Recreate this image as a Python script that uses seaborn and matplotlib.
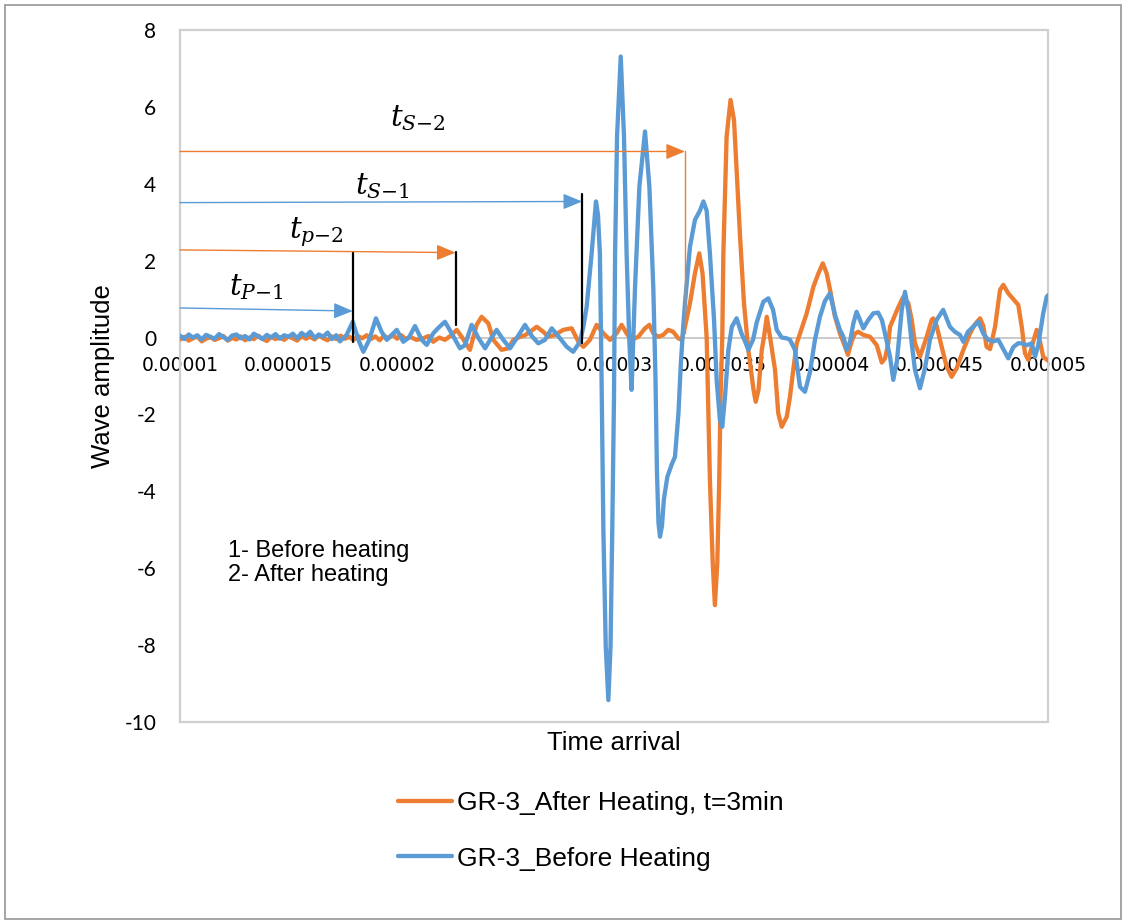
import matplotlib
matplotlib.use("Agg")
import matplotlib.pyplot as plt
from matplotlib.lines import Line2D
from matplotlib.patches import Rectangle
import numpy as np
import pandas as pd
import seaborn as sns

# ---- waveform before heating (time in microseconds, amplitude) ----
before_time_us = [
    10.0, 10.2, 10.4, 10.6, 10.8, 11.0, 11.2, 11.4, 11.6, 11.8,
    12.0, 12.2, 12.4, 12.6, 12.8, 13.0, 13.2, 13.4, 13.6, 13.8,
    14.0, 14.2, 14.4, 14.6, 14.8, 15.0, 15.2, 15.4, 15.6, 15.8,
    16.0, 16.2, 16.4, 16.6, 16.8, 17.0, 17.2, 17.37, 17.68, 17.96,
    18.22, 18.45, 18.72, 19.03, 19.29, 19.53, 19.76, 19.99, 20.29, 20.55,
    20.83, 21.14, 21.37, 21.67, 21.90, 22.21, 22.52, 22.90, 23.13, 23.44,
    23.74, 24.06, 24.29, 24.59, 24.90, 25.21, 25.59, 25.90, 26.21, 26.51,
    26.82, 27.13, 27.43, 27.82, 28.12, 28.43, 28.59, 28.74, 28.97, 29.17,
    29.26, 29.35, 29.43, 29.51, 29.62, 29.74, 29.84, 29.92, 30.00, 30.05,
    30.14, 30.31, 30.46, 30.58, 30.70, 30.81, 30.97, 31.17, 31.43, 31.63,
    31.81, 31.91, 31.98, 32.05, 32.12, 32.21, 32.30, 32.46, 32.66, 32.81,
    32.97, 33.08, 33.18, 33.27, 33.50, 33.73, 33.96, 34.12, 34.27, 34.42,
    34.61, 34.73, 34.88, 34.99, 35.12, 35.27, 35.43, 35.65, 35.88, 36.04,
    36.19, 36.41, 36.58, 36.88, 37.11, 37.33, 37.50, 37.73, 37.96, 38.11,
    38.34, 38.57, 38.80, 39.03, 39.26, 39.49, 39.72, 39.95, 40.18, 40.41,
    40.57, 40.72, 40.88, 41.03, 41.18, 41.34, 41.49, 41.71, 41.95, 42.17,
    42.35, 42.53, 42.72, 42.87, 43.04, 43.26, 43.41, 43.56, 43.72, 43.87,
    44.10, 44.33, 44.56, 44.87, 45.17, 45.48, 45.71, 45.94, 46.10, 46.31,
    46.64, 46.79, 47.02, 47.25, 47.48, 47.71, 47.94, 48.17, 48.40, 48.62,
    48.79, 49.02, 49.25, 49.40, 49.55, 49.78, 49.94, 50.00,
]
before_amp = [
    0.05, -0.04, 0.08, 0.00, 0.06, -0.05, 0.07, 0.02, -0.03, 0.09,
    0.01, -0.06, 0.05, 0.08, -0.02, 0.04, -0.05, 0.10, 0.03, -0.04,
    0.07, 0.00, 0.09, -0.03, 0.06, 0.02, 0.10, -0.02, 0.12, 0.04,
    0.15, -0.01, 0.08, 0.02, 0.13, -0.04, 0.06, -0.10, 0.07, 0.41,
    -0.06, -0.37, -0.06, 0.50, 0.15, -0.06, 0.07, 0.20, -0.11, 0.00,
    0.30, -0.06, -0.19, 0.11, 0.25, 0.41, 0.11, -0.28, -0.20, 0.33,
    0.00, -0.28, -0.06, 0.20, -0.06, -0.28, 0.05, 0.33, 0.04, -0.15,
    -0.06, 0.24, 0.04, -0.24, -0.37, -0.11, 0.28, 0.80, 2.19, 3.54,
    3.20, 2.19, -1.20, -5.00, -8.04, -9.43, -8.04, -5.00, -1.54, 2.19,
    5.23, 7.31, 5.23, 2.19, 0.00, -1.36, 1.32, 3.93, 5.36, 3.93,
    1.32, -1.00, -3.50, -4.83, -5.18, -4.90, -4.20, -3.62, -3.30, -3.10,
    -1.97, -0.67, 0.20, 0.89, 2.36, 3.06, 3.30, 3.54, 3.30, 2.19,
    0.46, -1.10, -2.14, -2.32, -1.50, -0.32, 0.28, 0.50, 0.10, -0.10,
    -0.32, -0.05, 0.40, 0.93, 1.02, 0.72, 0.20, 0.00, -0.02, -0.06,
    -0.32, -1.28, -1.41, -0.90, -0.06, 0.54, 0.95, 1.15, 0.60, 0.20,
    0.02, -0.32, -0.10, 0.37, 0.67, 0.45, 0.24, 0.45, 0.63, 0.65,
    0.45, 0.00, -0.50, -1.10, -0.60, 0.72, 1.19, 0.70, -0.15, -0.84,
    -1.32, -0.80, -0.06, 0.46, 0.72, 0.28, 0.15, 0.07, -0.11, 0.15,
    0.33, 0.41, 0.10, -0.06, -0.10, -0.06, -0.30, -0.54, -0.25, -0.15,
    -0.15, -0.20, -0.15, -0.50, -0.20, 0.63, 1.06, 1.10,
]

# ---- waveform after heating, t = 3 min ----
after_time_us = [
    10.0, 10.2, 10.4, 10.6, 10.8, 11.0, 11.2, 11.4, 11.6, 11.8,
    12.0, 12.2, 12.4, 12.6, 12.8, 13.0, 13.2, 13.4, 13.6, 13.8,
    14.0, 14.2, 14.4, 14.6, 14.8, 15.0, 15.2, 15.4, 15.6, 15.8,
    16.0, 16.2, 16.4, 16.6, 16.8, 17.0, 17.2, 17.4, 17.6, 17.8,
    18.0, 18.2, 18.4, 18.6, 18.8, 19.0, 19.2, 19.4, 19.6, 19.8,
    20.0, 20.2, 20.4, 20.60, 20.90, 21.21, 21.45, 21.67, 21.95, 22.21,
    22.52, 22.75, 22.98, 23.36, 23.67, 23.90, 24.21, 24.44, 24.82, 25.13,
    25.36, 25.67, 25.90, 26.13, 26.44, 26.74, 26.97, 27.28, 27.66, 28.05,
    28.36, 28.59, 28.89, 29.20, 29.51, 29.82, 30.12, 30.35, 30.58, 30.81,
    31.12, 31.43, 31.63, 31.81, 32.04, 32.27, 32.50, 32.73, 32.96, 33.12,
    33.27, 33.50, 33.73, 33.93, 34.08, 34.27, 34.42, 34.55, 34.65, 34.76,
    34.85, 34.91, 34.99, 35.04, 35.19, 35.37, 35.53, 35.65, 35.81, 35.99,
    36.19, 36.27, 36.43, 36.53, 36.66, 36.81, 36.91, 37.04, 37.19, 37.42,
    37.57, 37.73, 37.96, 38.11, 38.26, 38.42, 38.57, 38.88, 39.19, 39.42,
    39.62, 39.80, 39.99, 40.18, 40.41, 40.65, 40.78, 40.95, 41.10, 41.26,
    41.49, 41.80, 42.11, 42.34, 42.49, 42.64, 42.72, 43.11, 43.33, 43.56,
    43.72, 43.87, 44.10, 44.41, 44.64, 44.71, 44.87, 45.10, 45.33, 45.56,
    45.79, 46.10, 46.41, 46.64, 46.87, 47.02, 47.17, 47.33, 47.56, 47.79,
    47.94, 48.17, 48.40, 48.63, 48.79, 48.94, 49.09, 49.32, 49.48, 49.63,
    49.78, 50.00,
]
after_amp = [
    -0.05, 0.02, -0.08, -0.02, 0.03, -0.10, -0.03, 0.01, -0.06, -0.02,
    0.04, -0.08, -0.01, -0.05, 0.03, -0.07, 0.00, -0.04, 0.05, -0.03,
    -0.09, 0.02, -0.04, 0.01, -0.06, 0.03, -0.02, -0.08, 0.04, -0.03,
    0.02, -0.05, 0.06, -0.02, -0.07, 0.03, -0.04, 0.05, -0.03, 0.02,
    -0.06, 0.04, -0.02, 0.06, -0.04, 0.03, -0.07, 0.05, -0.02, 0.08,
    -0.03, 0.06, -0.04, 0.02, -0.06, -0.02, 0.04, -0.11, 0.00, -0.06,
    0.07, 0.20, 0.02, -0.32, 0.33, 0.54, 0.37, -0.06, -0.32, -0.28,
    -0.06, 0.02, 0.06, 0.15, 0.28, 0.15, 0.02, 0.07, 0.20, 0.24,
    -0.11, -0.24, -0.06, 0.33, 0.11, -0.06, 0.11, 0.33, 0.11, -0.06,
    0.02, 0.24, 0.33, 0.11, 0.02, 0.07, 0.20, 0.15, -0.02, -0.06,
    0.28, 0.89, 1.67, 2.19, 1.67, 0.00, -3.70, -5.87, -6.96, -5.87,
    -3.70, -1.54, 0.00, 2.19, 5.23, 6.18, 5.66, 4.36, 2.62, 0.89,
    -0.32, -0.67, -1.36, -1.67, -1.36, -0.32, 0.00, 0.54, 0.02, -0.84,
    -1.97, -2.32, -2.06, -1.54, -0.84, -0.15, 0.10, 0.63, 1.32, 1.67,
    1.93, 1.67, 1.15, 0.55, 0.11, -0.24, -0.45, -0.10, 0.10, 0.15,
    0.07, 0.02, -0.20, -0.65, -0.54, -0.15, 0.28, 0.80, 1.06, 0.90,
    0.46, -0.15, -0.50, 0.02, 0.46, 0.50, 0.30, -0.24, -0.76, -1.02,
    -0.80, -0.32, 0.11, 0.35, 0.50, 0.30, -0.24, -0.30, 0.28, 1.24,
    1.37, 1.15, 1.00, 0.85, 0.28, -0.41, -0.58, -0.10, 0.20, -0.10,
    -0.50, -0.60,
]

series_names = ["GR-3_After Heating, t=3min", "GR-3_Before Heating"]
series_colors = ["#ED7D31", "#5B9BD5"]

x_ticks = [1.0e-5, 1.5e-5, 2.0e-5, 2.5e-5, 3.0e-5, 3.5e-5, 4.0e-5, 4.5e-5, 5.0e-5]
x_tick_labels = ["0.00001", "0.000015", "0.00002", "0.000025", "0.00003",
                 "0.000035", "0.00004", "0.000045", "0.00005"]
y_ticks = [-10, -8, -6, -4, -2, 0, 2, 4, 6, 8]
y_tick_labels = ["-10", "-8", "-6", "-4", "-2", "0", "2", "4", "6", "8"]

# picked arrival times (microseconds) with the arrow levels that point at them
pick_labels = [r"$t_{P{-}1}$", r"$t_{p{-}2}$", r"$t_{S{-}1}$", r"$t_{S{-}2}$"]
pick_time_us = [17.96, 22.70, 28.53, 33.27]
pick_level_start = [0.77, 2.28, 3.51, 4.84]
pick_level_end = [0.69, 2.21, 3.54, 4.84]
pick_marker_span = [(-0.11, 2.21), (0.33, 2.23), (-0.13, 3.74), (0.12, 4.84)]
pick_series = [1, 0, 1, 0]
pick_label_pos = [(13.50, 1.32), (16.27, 2.75), (19.31, 3.94), (20.97, 5.71)]

note_text = "1- Before heating\n2- After heating"

# ---------------------------------------------------------------------------
sns.set_style("white")
plt.rcParams["mathtext.fontset"] = "dejavuserif"
plt.rcParams["axes.unicode_minus"] = False
for key in ["text.color", "axes.labelcolor", "xtick.color", "ytick.color"]:
    plt.rcParams[key] = "black"

W, H = 1126, 924
fig = plt.figure(figsize=(W / 100, H / 100), dpi=100)
fig.patch.set_facecolor("white")
ax = fig.add_axes([180 / W, 1 - 722 / H, 868 / W, 692 / H])

frames = []
for name, t_us, amp in [(series_names[0], after_time_us, after_amp),
                        (series_names[1], before_time_us, before_amp)]:
    assert len(t_us) == len(amp), name
    frames.append(pd.DataFrame({"time": np.asarray(t_us) * 1e-6,
                                "amp": amp, "series": name}))
df = pd.concat(frames, ignore_index=True)

LW = 3.1
sns.lineplot(data=df, x="time", y="amp", hue="series", hue_order=series_names,
             palette=dict(zip(series_names, series_colors)),
             estimator=None, sort=False, linewidth=LW, legend=False, ax=ax,
             solid_joinstyle="round", solid_capstyle="round", zorder=3)

ax.set_xlim(1.0e-5, 5.0e-5)
ax.set_ylim(-10, 8)

# frame and zero line
for side in ["left", "right", "top"]:
    ax.spines[side].set_visible(False)
ax.spines["bottom"].set_position(("data", 0))
ax.spines["bottom"].set_color("#c6c6c6")
ax.spines["bottom"].set_linewidth(1.3)
ax.spines["bottom"].set_zorder(1)
ax.add_patch(Rectangle((0, 0), 1, 1, transform=ax.transAxes, fill=False,
                       edgecolor="#cfcfcf", linewidth=1.6, clip_on=False, zorder=1))

ax.set_xticks(x_ticks, x_tick_labels, fontsize=13.5, fontfamily="DejaVu Sans")
ax.set_yticks(y_ticks, y_tick_labels, fontsize=15, fontfamily="Lato")
ax.tick_params(axis="x", length=0, pad=13, colors="black")
ax.tick_params(axis="y", length=0, pad=17, colors="black")
ax.grid(False)

ax.set_xlabel("Time arrival", fontsize=18.5, fontfamily="Liberation Sans",
              va="center", color="black")
ax.set_ylabel("Wave amplitude", fontsize=18.5, fontfamily="Liberation Sans",
              va="center", color="black")
ax.xaxis.set_label_coords(0.5, -0.0303)
ax.yaxis.set_label_coords(-0.0887, 0.5)

# arrival-time arrows, marker lines and labels
for i, lab in enumerate(pick_labels):
    col = series_colors[pick_series[i]]
    t = pick_time_us[i] * 1e-6
    ax.annotate("", xy=(t, pick_level_end[i]), xytext=(1.0e-5, pick_level_start[i]),
                arrowprops=dict(arrowstyle="-|>,head_length=0.58,head_width=0.24",
                                color=col, lw=1.0, shrinkA=0, shrinkB=0,
                                mutation_scale=20), zorder=4)
    lo, hi = pick_marker_span[i]
    if i < 3:
        ax.plot([t, t], [lo, hi], color="black", lw=1.6, zorder=5)
    else:
        ax.plot([t, t], [lo, hi], color=col, lw=1.0, zorder=4)
    lx, ly = pick_label_pos[i]
    ax.text(lx * 1e-6, ly, lab, fontsize=21, ha="center", va="center",
            color="black", zorder=6)

ax.text(12.21e-6, -5.86, note_text, fontsize=17, fontfamily="Liberation Sans",
        ha="left", va="center", linespacing=1.15, color="black")

handles = [Line2D([0], [0], color=c, lw=LW) for c in series_colors]
leg = fig.legend(handles, series_names, loc="upper left",
                 bbox_to_anchor=(398 / W, 1 - 791 / H), bbox_transform=fig.transFigure,
                 frameon=False, prop={"family": "Liberation Sans", "size": 19},
                 handlelength=2.05, handletextpad=0.2, labelspacing=1.2,
                 borderpad=0, borderaxespad=0)
for txt in leg.get_texts():
    txt.set_color("black")

# outer chart border
fig.patches.append(Rectangle((5 / W, 1 - 919 / H), 1116 / W, 914 / H,
                             transform=fig.transFigure, fill=False,
                             edgecolor="#9e9e9e", linewidth=1.3))

fig.savefig("out.png", dpi=100)
